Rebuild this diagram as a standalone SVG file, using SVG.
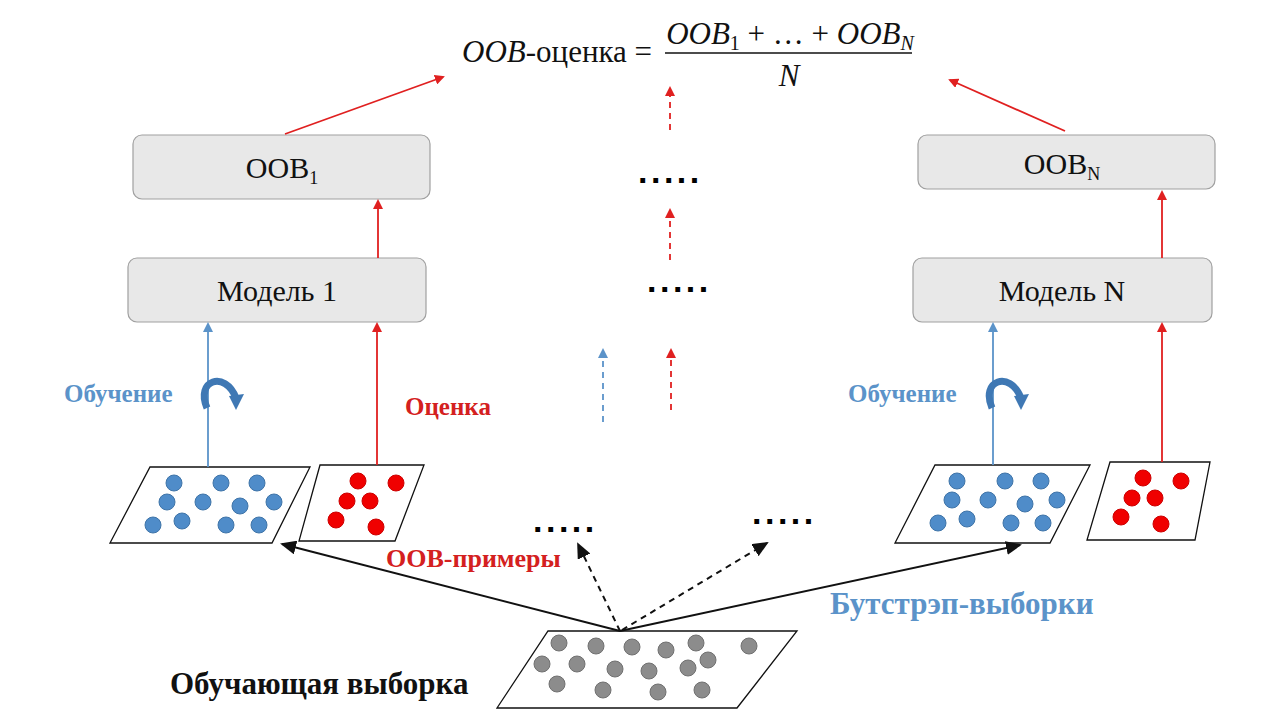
<svg xmlns="http://www.w3.org/2000/svg" width="1280" height="720" viewBox="0 0 1280 720">
<style>
.box{fill:#e8e8e8;stroke:#a0a0a0;stroke-width:1.2}
.bt{font-family:"Liberation Serif",serif;font-size:30px;text-anchor:middle;fill:#111}
.par{fill:#fff;stroke:#111;stroke-width:1.3}
.b{fill:#4f8cc9;stroke:#3f74a8}
.r{fill:#f00000;stroke:#c00}
.g{fill:#8c8c8c;stroke:#707070}
.lb{font-family:"Liberation Serif",serif;font-weight:bold}
.red{stroke:#e02020;stroke-width:1.8;fill:none}
.blu{stroke:#5b93c9;stroke-width:1.8;fill:none}
.blk{stroke:#111;stroke-width:2;fill:none}
.dash{stroke-dasharray:6 5}
.dots{font-family:"Liberation Sans",sans-serif;font-size:34px;font-weight:bold;fill:#000;letter-spacing:3.5px}
.math{font-family:"Liberation Serif",serif;font-size:31px;fill:#111}
</style>
<defs>
<marker id="ar" markerWidth="10" markerHeight="10" refX="8" refY="5" orient="auto" markerUnits="userSpaceOnUse"><path d="M0,0 L10,5 L0,10 z" fill="#e02020"/></marker>
<marker id="ab" markerWidth="10" markerHeight="10" refX="8" refY="5" orient="auto" markerUnits="userSpaceOnUse"><path d="M0,0 L10,5 L0,10 z" fill="#5b93c9"/></marker>
<marker id="ak" markerWidth="16" markerHeight="14" refX="14" refY="7" orient="auto" markerUnits="userSpaceOnUse"><path d="M0,0 L16,7 L0,14 z" fill="#111"/></marker>
</defs>
<rect width="1280" height="720" fill="#fff"/>

<g id="formula">
<text class="math" x="462" y="62"><tspan font-style="italic">OOB</tspan>-оценка =</text>
<text class="math" x="790" y="44" text-anchor="middle"><tspan font-style="italic">OOB</tspan><tspan font-size="20" dy="6">1</tspan><tspan dy="-6"> + … + </tspan><tspan font-style="italic">OOB</tspan><tspan font-size="20" font-style="italic" dy="6">N</tspan></text>
<line x1="665" y1="53" x2="912" y2="53" stroke="#111" stroke-width="1.5"/>
<text class="math" x="789" y="86" text-anchor="middle" font-style="italic">N</text>
</g>

<g id="oob1"><rect class="box" x="133" y="135" width="297" height="64" rx="9"/><text class="bt" x="282" y="178">OOB<tspan font-size="18" dy="6">1</tspan></text></g>
<g id="model1"><rect class="box" x="128" y="258" width="298" height="64" rx="9"/><text class="bt" x="277" y="301">Модель 1</text></g>
<g id="oobN"><rect class="box" x="918" y="135" width="297" height="54" rx="9"/><text class="bt" x="1062" y="174">OOB<tspan font-size="18" dy="6">N</tspan></text></g>
<g id="modelN"><rect class="box" x="913" y="258" width="299" height="64" rx="9"/><text class="bt" x="1062" y="301">Модель N</text></g>

<g id="sample1">
<polygon class="par" points="150,467 310,467 272,543 110,543"/>
<g class="b"><circle cx="174" cy="483" r="8"/><circle cx="221" cy="483" r="8"/><circle cx="257" cy="483" r="8"/><circle cx="167" cy="502" r="8"/><circle cx="203" cy="502" r="8"/><circle cx="240" cy="506" r="8"/><circle cx="274" cy="502" r="8"/><circle cx="153" cy="525" r="8"/><circle cx="182" cy="521" r="8"/><circle cx="226" cy="525" r="8"/><circle cx="259" cy="525" r="8"/></g>
</g>
<g id="oobset1">
<polygon class="par" points="320,465 424,465 395,541 299,541"/>
<g class="r"><circle cx="358" cy="481" r="8"/><circle cx="396" cy="483" r="8"/><circle cx="347" cy="501" r="8"/><circle cx="370" cy="501" r="8"/><circle cx="336" cy="520" r="8"/><circle cx="376" cy="527" r="8"/></g>
</g>
<g id="sampleN">
<polygon class="par" points="935,465 1090,465 1050,543 895,543"/>
<g class="b"><circle cx="957" cy="481" r="8"/><circle cx="1005" cy="481" r="8"/><circle cx="1041" cy="481" r="8"/><circle cx="952" cy="500" r="8"/><circle cx="988" cy="500" r="8"/><circle cx="1025" cy="504" r="8"/><circle cx="1057" cy="500" r="8"/><circle cx="938" cy="523" r="8"/><circle cx="967" cy="519" r="8"/><circle cx="1011" cy="523" r="8"/><circle cx="1043" cy="523" r="8"/></g>
</g>
<g id="oobsetN">
<polygon class="par" points="1110,462 1210,462 1195,540 1087,540"/>
<g class="r"><circle cx="1143" cy="478" r="8"/><circle cx="1181" cy="481" r="8"/><circle cx="1132" cy="498" r="8"/><circle cx="1155" cy="498" r="8"/><circle cx="1121" cy="517" r="8"/><circle cx="1161" cy="524" r="8"/></g>
</g>
<g id="train">
<polygon class="par" points="548,631 797,631 737,708 497,708"/>
<g class="g"><circle cx="559" cy="643" r="8"/><circle cx="596" cy="646" r="8"/><circle cx="632" cy="647" r="8"/><circle cx="666" cy="650" r="8"/><circle cx="696" cy="643" r="8"/><circle cx="749" cy="646" r="8"/><circle cx="542" cy="664" r="8"/><circle cx="577" cy="664" r="8"/><circle cx="615" cy="669" r="8"/><circle cx="649" cy="671" r="8"/><circle cx="688" cy="668" r="8"/><circle cx="708" cy="660" r="8"/><circle cx="557" cy="684" r="8"/><circle cx="603" cy="690" r="8"/><circle cx="658" cy="692" r="8"/><circle cx="702" cy="690" r="8"/></g>
</g>

<g id="connectors">
<line class="blu" x1="208" y1="467" x2="208" y2="324" marker-end="url(#ab)"/>
<line class="red" x1="377" y1="465" x2="377" y2="324" marker-end="url(#ar)"/>
<line class="red" x1="378" y1="258" x2="378" y2="201" marker-end="url(#ar)"/>
<line class="red" x1="285" y1="134" x2="443" y2="77" marker-end="url(#ar)"/>
<line class="blu" x1="993" y1="465" x2="993" y2="324" marker-end="url(#ab)"/>
<line class="red" x1="1162" y1="462" x2="1162" y2="324" marker-end="url(#ar)"/>
<line class="red" x1="1162" y1="258" x2="1162" y2="192" marker-end="url(#ar)"/>
<line class="red" x1="1065" y1="131" x2="950" y2="80" marker-end="url(#ar)"/>
<line class="red dash" x1="670" y1="130" x2="670" y2="88" marker-end="url(#ar)"/>
<line class="red dash" x1="670" y1="260" x2="670" y2="210" marker-end="url(#ar)"/>
<line class="blu dash" x1="603" y1="422" x2="603" y2="350" marker-end="url(#ab)"/>
<line class="red dash" x1="671" y1="410" x2="671" y2="350" marker-end="url(#ar)"/>
<line class="blk" x1="620" y1="631" x2="282" y2="544" marker-end="url(#ak)"/>
<line class="blk" x1="620" y1="631" x2="1020" y2="545" marker-end="url(#ak)"/>
<line class="blk dash" x1="620" y1="631" x2="578" y2="544" marker-end="url(#ak)"/>
<line class="blk dash" x1="622" y1="630" x2="767" y2="543" marker-end="url(#ak)"/>
<path d="M207,408 C195,380 225,370 236,398" fill="none" stroke="#3f78b4" stroke-width="7"/>
<path d="M229,396 L244,394 L236,410 z" fill="#3f78b4"/>
<path d="M992,408 C980,380 1010,370 1021,398" fill="none" stroke="#3f78b4" stroke-width="7"/>
<path d="M1014,396 L1029,394 L1021,410 z" fill="#3f78b4"/>
</g>

<g id="labels">
<text class="lb" x="64" y="402" font-size="25" fill="#5b93c9">Обучение</text>
<text class="lb" x="848" y="402" font-size="25" fill="#5b93c9">Обучение</text>
<text class="lb" x="405" y="415" font-size="25" fill="#d42020">Оценка</text>
<text class="lb" x="386" y="567" font-size="26" fill="#d42020">OOB-примеры</text>
<text class="lb" x="830" y="614" font-size="31" fill="#5b93c9">Бутстрэп-выборки</text>
<text class="lb" x="170" y="694" font-size="31" fill="#111">Обучающая выборка</text>
<text class="dots" x="638" y="183">.....</text>
<text class="dots" x="647" y="292">.....</text>
<text class="dots" x="533" y="532">.....</text>
<text class="dots" x="752" y="524">.....</text>
</g>
</svg>
